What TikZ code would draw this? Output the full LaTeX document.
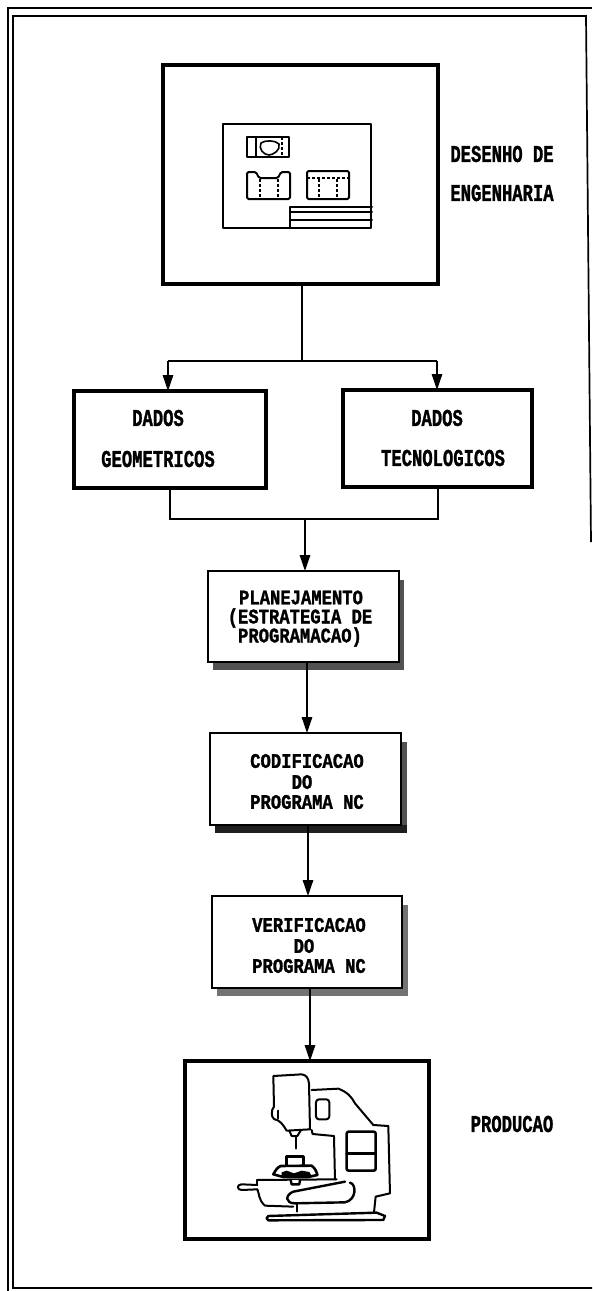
\documentclass[tikz,border=0pt]{standalone}
\usepackage{fontspec}
\usepackage{graphicx}
\setmainfont{Liberation Mono}
\newfontfamily\lblfont[BoldFont={Liberation Mono Bold},BoldFeatures={FakeBold=1.6}]{Liberation Mono}
\usetikzlibrary{arrows.meta}
\newcommand{\lbltxt}[1]{\scalebox{1}[1.4]{\lblfont\bfseries\fontsize{17.2}{17.2}\selectfont #1}}
\newcommand{\stacktxt}[1]{\scalebox{1}[1.2]{\lblfont\bfseries\fontsize{17.2}{17.2}\selectfont #1}}
\tikzset{
  x=1pt,y=-1pt,
  thickbox/.style={draw=black,line width=3.8pt,fill=white,inner sep=0pt,outer sep=0pt,anchor=north west},
  thinbox/.style={draw=black,line width=1.8pt,fill=white,inner sep=0pt,outer sep=0pt,anchor=north west},
  lbl/.style={inner sep=0pt,outer sep=0pt,anchor=center},
  conn/.style={draw=black,line width=1.4pt},
  arrowconn/.style={conn,-{Triangle[length=16pt,width=10.5pt]}},
  frameline/.style={draw=black,line width=1.7pt},
  sketch/.style={draw=black,line width=1.6pt,line join=round,line cap=round},
  sketchdash/.style={draw=black,line width=1.2pt,dash pattern=on 3pt off 2pt},
  mach/.style={draw=black,line width=2pt,line join=round,line cap=round},
}
\begin{document}
\begin{tikzpicture}
\useasboundingbox (0,0) rectangle (592,1291);
\fill[white] (0,0) rectangle (592,1291);
% page frame
\draw[frameline] (8,1291) -- (8,8) -- (592,8);
\draw[frameline] (591,542) -- (586,16) -- (13,16) -- (13,1288) -- (592,1288);
% boxes
\node[thickbox,minimum width=275pt,minimum height=219pt] (top) at (163,65) {};
\node[thickbox,minimum width=192pt,minimum height=97pt] (geo) at (74,391) {};
\node[thickbox,minimum width=189pt,minimum height=97pt] (tec) at (343,390) {};
\fill[black!68] (213,580) rectangle (403.5,670);
\node[thinbox,minimum width=191pt,minimum height=91pt] (plan) at (208,571) {};
\fill[black!68] (406.5,742) rectangle (401,825);
\fill[black!88] (215,825) rectangle (406.5,833);
\node[thinbox,minimum width=191pt,minimum height=92pt] (cod) at (210,733) {};
\fill[black!55] (217,905) rectangle (408,996);
\node[thinbox,minimum width=190pt,minimum height=92pt] (ver) at (212,896) {};
\node[thickbox,minimum width=244pt,minimum height=178pt] (prod) at (185,1061) {};
% connectors
\coordinate (jtop) at (302,361);
\coordinate (jl) at (168,361);
\coordinate (jr) at (437,361);
\coordinate (jbot) at (305,519);
\coordinate (jbl) at (170,519);
\coordinate (jbr) at (438,519);
\draw[conn] (top.south -| jtop) -- (jtop);
\draw[conn] (jl) -- (jr);
\draw[arrowconn] (jl) -- (geo.north -| jl);
\draw[arrowconn] (jr) -- (tec.north -| jr);
\draw[conn] (geo.south -| jbl) -- (jbl) -- (jbr) -- (tec.south -| jbr);
\draw[arrowconn] (jbot) -- (plan.north -| jbot);
\coordinate (c1) at (307,0);
\coordinate (c2) at (308,0);
\coordinate (c3) at (310,0);
\draw[arrowconn] (plan.south -| c1) -- (cod.north -| c1);
\draw[arrowconn] (cod.south -| c2) -- (ver.north -| c2);
\draw[arrowconn] (ver.south -| c3) -- (prod.north -| c3);
% labels
\node[lbl] (t1) at (502,154) {\lbltxt{DESENHO DE}};
\node[lbl] (t2) at (502,193) {\lbltxt{ENGENHARIA}};
\node[lbl] (t3) at (158,418) {\lbltxt{DADOS}};
\node[lbl] (t4) at (158,459) {\lbltxt{GEOMETRICOS}};
\node[lbl] (t5) at (437,418) {\lbltxt{DADOS}};
\node[lbl] (t6) at (443,458) {\lbltxt{TECNOLOGICOS}};
\node[lbl] (t7) at (301,597.5) {\stacktxt{PLANEJAMENTO}};
\node[lbl] (t8) at (300,618) {\stacktxt{(ESTRATEGIA DE}};
\node[lbl] (t9) at (300,637) {\stacktxt{PROGRAMACAO)}};
\node[lbl] (t10) at (307,761) {\stacktxt{CODIFICACAO}};
\node[lbl] (t11) at (302,782) {\stacktxt{DO}};
\node[lbl] (t12) at (307,802) {\stacktxt{PROGRAMA NC}};
\node[lbl] (t13) at (309,925) {\stacktxt{VERIFICACAO}};
\node[lbl] (t14) at (304,946) {\stacktxt{DO}};
\node[lbl] (t15) at (309,966) {\stacktxt{PROGRAMA NC}};
\node[lbl] (t16) at (512,1124) {\lbltxt{PRODUCAO}};
% engineering drawing
\draw[sketch] (223,124) rectangle (371,228);
\draw[sketch,line width=2pt] (290,228) -- (290,207) -- (372,207);
\draw[sketch,line width=2pt] (290,212) -- (372,212);
\draw[sketch,line width=2pt] (290,220) -- (372,220);
\draw[sketch,line width=2pt] (247,137) rectangle (289,157);
\draw[sketch] (256,137) -- (256,157);
\draw[sketchdash] (282,137) -- (282,157);
\draw[sketch] (261,143) .. controls (265,140) and (275,140) .. (279,144) .. controls (281,150) and (273,155) .. (269,155) .. controls (264,155) and (258,149) .. (261,143) -- cycle;
\draw[sketch,line width=2pt,rounded corners=1.5pt] (247,199) -- (247,172) -- (256,172) -- (259,178) -- (278,178) -- (281,172) -- (290,172) -- (290,199) -- cycle;
\draw[sketchdash] (260,179) -- (260,198);
\draw[sketchdash] (278,179) -- (278,198);
\draw[sketch,line width=2pt,rounded corners=1.5pt] (307,171) rectangle (349,199);
\draw[sketchdash] (307,178) -- (349,178);
\draw[sketchdash] (319,179) -- (319,198);
\draw[sketchdash] (337,179) -- (337,198);
% machine tool
\begin{scope}[shift={(170,1040)},x=0.3333pt,y=-0.3333pt]
\draw[mach] (310,108) -- (395,103) .. controls (410,105) and (415,115) .. (417,130) -- (420,268) -- (350,272) .. controls (340,255) and (330,240) .. (312,237) .. controls (303,230) and (303,210) .. (312,200) -- cycle;
\draw[mach] (325,212) -- (325,235);
\draw[mach] (358,272) -- (365,288) -- (382,288) -- (392,272);
\draw[mach,line width=2.8pt] (378,290) -- (378,325);
\draw[mach] (425,150) -- (505,146) .. controls (530,155) and (545,170) .. (555,190) -- (610,255) -- (655,258) -- (660,460) -- (617,470) -- (612,518);
\draw[mach] (425,270) -- (428,282) -- (492,288) -- (495,418);
\draw[mach,rounded corners=3pt] (438,178) rectangle (478,238);
\draw[mach,line width=2.6pt,rounded corners=2pt] (530,275) rectangle (617,392);
\draw[mach,line width=2.6pt] (530,340) -- (617,340);
\draw[mach] (262,435) -- (215,433) .. controls (200,433) and (200,450) .. (215,450) -- (262,448);
\draw[mach] (262,420) -- (500,418);
\draw[mach] (262,420) -- (262,435);
\draw[mach] (262,448) .. controls (268,460) and (265,480) .. (285,497) -- (370,500);
\draw[mach,line width=2.4pt] (525,425) -- (370,455) .. controls (345,465) and (345,490) .. (375,490) -- (525,487) .. controls (560,480) and (560,432) .. (540,428);
\draw[mach] (380,492) -- (380,515);
\draw[mach,line width=2.4pt] (295,528) -- (620,518) -- (645,528) -- (640,540) -- (295,541) .. controls (288,538) and (288,532) .. (295,528) -- cycle;
\draw[mach,line width=2.6pt] (350,378) -- (350,350) -- (400,350) -- (400,378);
\draw[mach,line width=2.6pt,fill=white] (310,403) .. controls (316,392) and (322,382) .. (332,378) -- (425,377) .. controls (434,384) and (440,394) .. (442,405) -- (415,411) -- (340,411) -- cycle;
\fill[black] (335,397) -- (350,392) -- (372,400) -- (395,392) -- (418,396) -- (425,408) -- (335,410) -- cycle;
\draw[mach,line width=2.4pt,fill=white] (362,420) -- (365,433) -- (388,433) -- (390,420);
\end{scope}
\end{tikzpicture}
\end{document}
